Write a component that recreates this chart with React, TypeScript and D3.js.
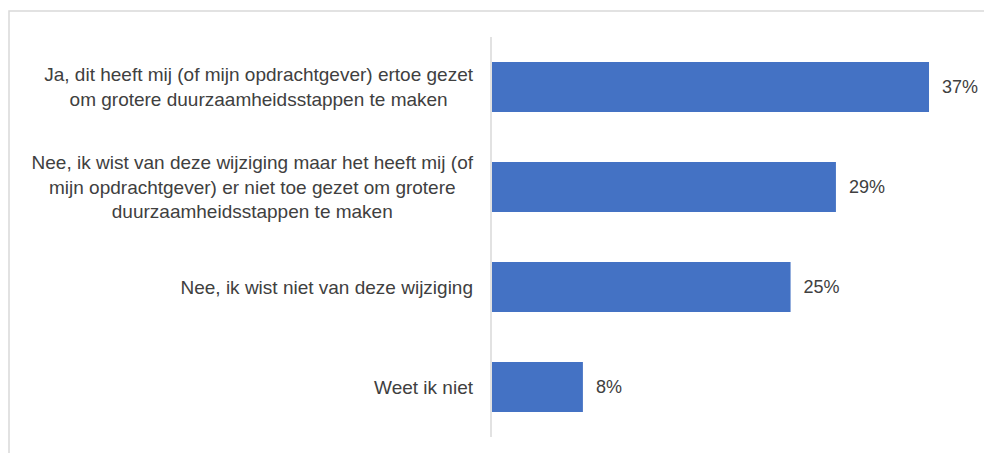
import React, { useEffect, useRef } from "react";
import * as d3 from "d3";

const categories: string[][] = [
  ["Ja, dit heeft mij (of mijn opdrachtgever) ertoe gezet", "om grotere duurzaamheidsstappen te maken"],
  ["Nee, ik wist van deze wijziging maar het heeft mij (of", "mijn opdrachtgever) er niet toe gezet om grotere", "duurzaamheidsstappen te maken"],
  ["Nee, ik wist niet van deze wijziging"],
  ["Weet ik niet"],
];
const values: number[] = [36.7, 28.9, 25.1, 7.7];

const W = 984;
const H = 453;

export default function App() {
  const ref = useRef<SVGSVGElement | null>(null);

  useEffect(() => {
    const svg = d3.select(ref.current);
    svg.selectAll("*").remove();

    const font = "Liberation Sans, Arial, sans-serif";
    const fontSize = 19;
    const valueFontSize = 18;
    const lineH = 24.5;
    const textColor = "#404040";

    // chart border
    svg.append("rect")
      .attr("x", 9).attr("y", 11).attr("width", W + 20).attr("height", H + 20)
      .attr("fill", "#fff").attr("stroke", "#d9d9d9").attr("stroke-width", 1.5);

    const axisX = 491;
    const x = d3.scaleLinear().domain([0, 40]).range([axisX, axisX + 477.4]);
    const y = d3.scaleBand<number>()
      .domain(d3.range(values.length))
      .range([37, 437])
      .paddingInner(0.5)
      .paddingOuter(0.25);

    // bars
    svg.append("g").selectAll("rect")
      .data(values)
      .join("rect")
      .attr("x", x(0) + 1)
      .attr("y", (_, i) => y(i)!)
      .attr("width", (d) => x(d) - x(0) - 1)
      .attr("height", y.bandwidth())
      .attr("fill", "#4472C4");

    // axis line
    svg.append("line")
      .attr("x1", axisX).attr("x2", axisX)
      .attr("y1", 37).attr("y2", 437)
      .attr("stroke", "#d9d9d9").attr("stroke-width", 1.5);

    // value labels
    svg.append("g").selectAll("text")
      .data(values)
      .join("text")
      .attr("x", (d) => x(d) + 13)
      .attr("y", (_, i) => y(i)! + y.bandwidth() / 2)
      .attr("dy", "0.35em")
      .attr("font-family", font)
      .attr("font-size", valueFontSize)
      .attr("fill", textColor)
      .text((d) => `${Math.round(d)}%`);

    // category labels
    const rightEdge = 473;
    categories.forEach((lines, i) => {
      const g = svg.append("g");
      const cy = y(i)! + y.bandwidth() / 2;
      const n = lines.length;
      const texts = lines.map((line, j) =>
        g.append("text")
          .attr("y", cy + (j - (n - 1) / 2) * lineH)
          .attr("dy", "0.35em")
          .attr("text-anchor", "middle")
          .attr("font-family", font)
          .attr("font-size", fontSize)
          .attr("fill", textColor)
          .text(line)
      );
      const maxW = d3.max(texts, (t) => (t.node() as SVGTextElement).getComputedTextLength()) || 0;
      const cx = rightEdge - maxW / 2;
      texts.forEach((t) => t.attr("x", cx));
    });
  }, []);

  return (
    <svg
      ref={ref}
      width={W}
      height={H}
      style={{ position: "absolute", left: 0, top: 0, background: "#fff" }}
    />
  );
}
